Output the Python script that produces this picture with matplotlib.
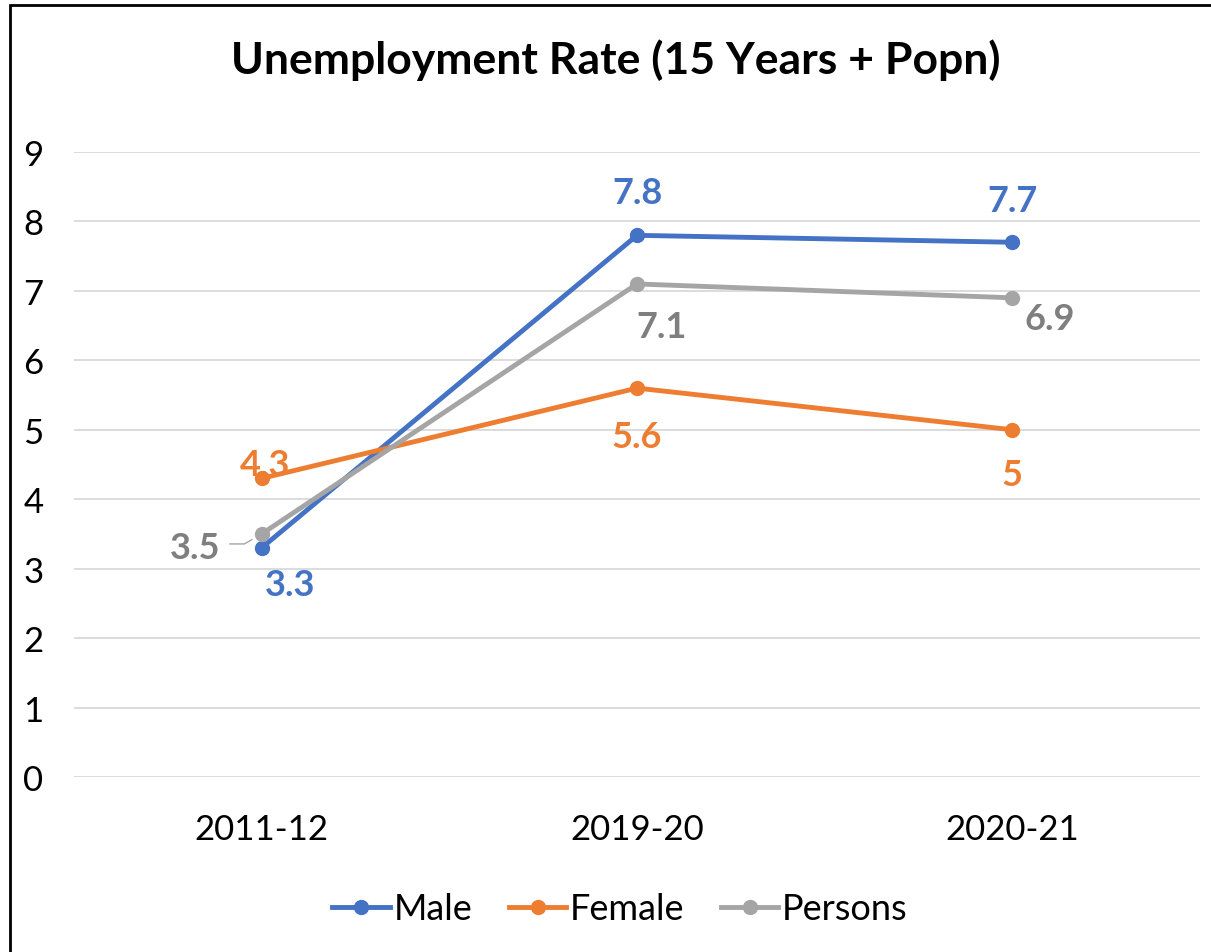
import matplotlib
matplotlib.use("Agg")
import matplotlib.pyplot as plt
from matplotlib.patches import Rectangle

# datos del grafico
years = ["2011-12", "2019-20", "2020-21"]
male = [3.3, 7.8, 7.7]
female = [4.3, 5.6, 5.0]
persons = [3.5, 7.1, 6.9]
male_lbl = ["3.3", "7.8", "7.7"]
female_lbl = ["4.3", "5.6", "5"]
persons_lbl = ["3.5", "7.1", "6.9"]

plt.rcParams['font.family'] = ['Lato', 'DejaVu Sans']

c_male = '#4472C4'
c_female = '#ED7D31'
c_pers = '#A5A5A5'
c_pers_txt = '#7F7F7F'

fig = plt.figure(figsize=(12.11, 9.53), dpi=100)
ax = fig.add_axes([74/1211, 1 - 778/953, (1200-74)/1211, (778-153)/953])

x = list(range(len(years)))
ax.plot(x, male, '-o', color=c_male, lw=3.5, ms=10, label='Male', zorder=3)
ax.plot(x, female, '-o', color=c_female, lw=3.5, ms=10, label='Female', zorder=3)
ax.plot(x, persons, '-o', color=c_pers, lw=3.5, ms=10, label='Persons', zorder=3)

ax.set_xlim(-0.5, 2.5)
ax.set_ylim(0, 9)
ax.set_yticks(range(0, 10))
ax.set_xticks(x)
ax.set_xticklabels(years)
ax.tick_params(axis='both', length=0, labelsize=25)
ax.tick_params(axis='y', pad=22)
ax.tick_params(axis='x', pad=26)
ax.grid(axis='y', color='#D9D9D9', lw=1.3)
ax.set_axisbelow(True)
for s in ax.spines.values():
    s.set_visible(False)

# etiquetas (desplazamiento en pixeles)
def etiqueta(xv, yv, txt, dx, dy, col):
    ax.annotate(txt, xy=(xv, yv), xytext=(dx, dy), textcoords='offset pixels',
                ha='center', va='center', fontsize=26, fontweight='bold', color=col)

male_off = [(28, -37), (0, 43), (0, 42)]
female_off = [(3, 14), (0, -48), (0, -45)]
pers_off = [(-67, -14), (25, -43), (37, -21)]
for i in x:
    etiqueta(i, male[i], male_lbl[i], *male_off[i], c_male)
    etiqueta(i, female[i], female_lbl[i], *female_off[i], c_female)
    etiqueta(i, persons[i], persons_lbl[i], *pers_off[i], c_pers_txt)

# linea guia del 3.5
ax.annotate('', xy=(0, persons[0]), xytext=(-32, -10), textcoords='offset pixels',
            arrowprops=dict(arrowstyle='-', color='#A5A5A5', lw=1,
                            shrinkA=0, shrinkB=8,
                            connectionstyle='angle,angleA=0,angleB=30,rad=0'))

fig.text(616/1211, 1 - 60/953, 'Unemployment Rate (15 Years + Popn)',
         ha='center', va='center', fontsize=32, fontweight='bold')

leg = fig.legend(loc='center', bbox_to_anchor=(620/1211, 1 - 910/953), ncol=3,
                 frameon=False, fontsize=26, handlelength=1.6, handletextpad=0.1,
                 columnspacing=1.0)

# borde del cuadro (recortado)
fig.add_artist(Rectangle((10/1211, -0.1), 2, 1 - 6/953 + 0.1, transform=fig.transFigure,
                         fill=False, ec='black', lw=2))

fig.savefig('out.png', dpi=100)
